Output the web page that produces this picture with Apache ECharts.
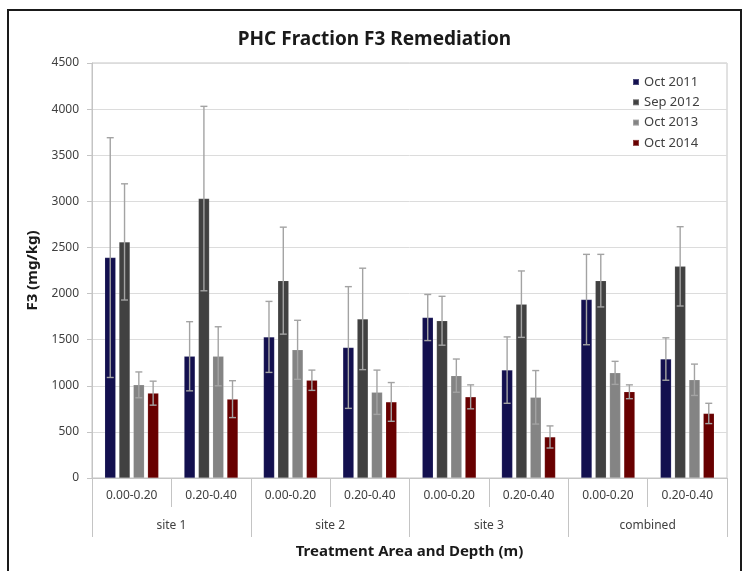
<!DOCTYPE html>
<html>
<head>
<meta charset="utf-8">
<script src="https://cdn.jsdelivr.net/npm/echarts@6/dist/echarts.min.js"></script>
<style>html,body{margin:0;padding:0;background:#fff}#c{width:749px;height:571px}</style>
</head>
<body>
<div id="c"></div>
<script>
const categories = ['0.00-0.20','0.20-0.40','0.00-0.20','0.20-0.40','0.00-0.20','0.20-0.40','0.00-0.20','0.20-0.40'];
const sites = ['site 1','site 2','site 3','combined'];
const yTicks = {min: 0, max: 4500, interval: 500};
const seriesNames = ['Oct 2011','Sep 2012','Oct 2013','Oct 2014'];
const oct2011 = [2390,1320,1530,1415,1740,1170,1935,1290];
const oct2011Err = [1300,375,385,660,250,360,490,230];
const sep2012 = [2560,3030,2140,1725,1705,1885,2140,2295];
const sep2012Err = [630,1000,580,550,265,360,285,430];
const oct2013 = [1010,1320,1390,930,1110,875,1140,1065];
const oct2013Err = [140,320,320,240,180,290,125,170];
const oct2014 = [920,855,1060,825,880,445,935,700];
const oct2014Err = [130,200,110,210,130,120,75,110];

const values = [oct2011, sep2012, oct2013, oct2014];
const errs = [oct2011Err, sep2012Err, oct2013Err, oct2014Err];
const colors = ['#13104f','#414141','#848484','#680000'];
const FONT = 'Noto Sans';
const BAR_W = 11, BAR_GAP = 3.3;

const chart = echarts.init(document.getElementById('c'), null, {renderer: 'canvas'});

const barSeries = values.map((v, i) => ({
  name: seriesNames[i], type: 'bar', xAxisIndex: 0, yAxisIndex: 0,
  data: v, barWidth: BAR_W, barGap: '30%',
  itemStyle: {color: colors[i], borderColor: 'rgba(255,255,255,0.25)', borderWidth: 0.5},
  z: 2
}));

const errSeries = values.map((v, i) => ({
  type: 'custom', xAxisIndex: 0, yAxisIndex: 0, z: 5, silent: true,
  data: v.map((val, k) => [k, val - errs[i][k], val + errs[i][k]]),
  renderItem: function (params, api) {
    const k = api.value(0);
    const lo = api.coord([k, api.value(1)]);
    const hi = api.coord([k, api.value(2)]);
    const x = lo[0] + (i - 1.5) * (BAR_W + BAR_GAP);
    const cap = 3.5;
    const style = {stroke: '#a3a3a3', lineWidth: 1.4};
    return {type: 'group', children: [
      {type: 'line', shape: {x1: x, y1: lo[1], x2: x, y2: hi[1]}, style: style},
      {type: 'line', shape: {x1: x - cap, y1: hi[1], x2: x + cap, y2: hi[1]}, style: style},
      {type: 'line', shape: {x1: x - cap, y1: lo[1], x2: x + cap, y2: lo[1]}, style: style}
    ]};
  }
}));

chart.setOption({
  animation: false,
  textStyle: {fontFamily: FONT},
  title: {
    text: 'PHC Fraction F3 Remediation', left: 'center', top: 25,
    textStyle: {fontFamily: FONT, fontSize: 19, fontWeight: 'bold', color: '#1a1a1a'}
  },
  legend: {
    data: seriesNames, orient: 'vertical', left: 627, top: 70,
    icon: 'rect', itemWidth: 6, itemHeight: 6, itemGap: 6.3, selectedMode: false,
    textStyle: {fontFamily: FONT, fontSize: 13, color: '#404040', lineHeight: 14}
  },
  grid: {left: 92, right: 22, top: 63, bottom: 93, show: true, borderColor: '#c4c4c4', borderWidth: 1},
  xAxis: [
    {
      type: 'category', data: categories, position: 'bottom',
      axisLine: {show: true, lineStyle: {color: '#c4c4c4'}},
      axisTick: {show: true, interval: 0, length: 29, lineStyle: {color: '#c4c4c4'}},
      axisLabel: {interval: 0, margin: 12, fontFamily: FONT, fontSize: 12, color: '#404040'}
    },
    {
      type: 'category', data: sites, position: 'bottom', offset: 0,
      axisLine: {show: false},
      axisTick: {show: true, interval: 0, length: 59, lineStyle: {color: '#c4c4c4'}},
      axisLabel: {interval: 0, margin: 42, fontFamily: FONT, fontSize: 12, color: '#404040'},
      name: 'Treatment Area and Depth (m)', nameLocation: 'middle', nameGap: 66,
      nameTextStyle: {fontFamily: FONT, fontSize: 15, fontWeight: 'bold', color: '#1a1a1a'}
    }
  ],
  yAxis: {
    type: 'value', min: yTicks.min, max: yTicks.max, interval: yTicks.interval,
    axisLine: {show: true, lineStyle: {color: '#c4c4c4'}},
    axisTick: {show: true, length: 5, lineStyle: {color: '#c4c4c4'}},
    axisLabel: {margin: 13, fontFamily: FONT, fontSize: 12, color: '#404040', formatter: v => String(v)},
    splitLine: {show: true, lineStyle: {color: '#dcdcdc'}},
    name: 'F3 (mg/kg)', nameLocation: 'middle', nameGap: 52, nameRotate: 90,
    nameTextStyle: {fontFamily: FONT, fontSize: 15, fontWeight: 'bold', color: '#1a1a1a'}
  },
  graphic: [{
    type: 'rect', silent: true, z: 100,
    shape: {x: 8, y: 10, width: 733, height: 572},
    style: {fill: null, stroke: '#1a1a1a', lineWidth: 2}
  }],
  series: barSeries.concat(errSeries)
});
</script>
</body>
</html>
